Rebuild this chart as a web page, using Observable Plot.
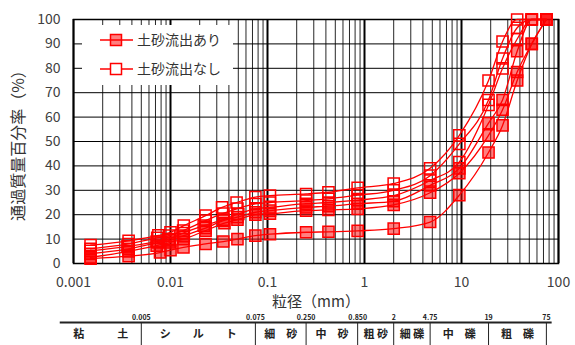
<!DOCTYPE html>
<html>
<head>
<meta charset="utf-8">
<script src="https://cdn.jsdelivr.net/npm/d3@7"></script>
<script src="https://cdn.jsdelivr.net/npm/@observablehq/plot@0.6"></script>
<style>
  body { margin: 0; background: #fff; }
  #wrap { position: relative; width: 575px; height: 345px; font-family: "Noto Sans CJK JP", "Noto Sans", sans-serif; }
  #chart svg, #table svg { display: block; }
  #legend { position: absolute; left: 82px; top: 25px; width: 151px; height: 60px; background: #fff; }
</style>
</head>
<body>
<div id="wrap">
  <div id="chart"></div>
  <div id="table"></div>
  <div id="legend"></div>
</div>
<script>
// Grain size distribution curves (passing percentage vs particle diameter)
const legendLabels = ["土砂流出あり", "土砂流出なし"];
const xTickValues = [0.001, 0.01, 0.1, 1, 10, 100];
const yTickValues = [0, 10, 20, 30, 40, 50, 60, 70, 80, 90, 100];

// sieve openings (mm), shared by all samples
const sieveSizes = [0.075, 0.106, 0.25, 0.425, 0.85, 2, 4.75, 9.5, 19, 26.5, 37.5, 53, 75];

// hydrometer diameters (mm) and passing percentages per sample
const hydroD1 = [0.0015, 0.0037, 0.0075, 0.0100, 0.0137, 0.023, 0.034, 0.048];
const hydroD2 = [0.0015, 0.0037, 0.0073, 0.0097, 0.0135, 0.023, 0.035, 0.049];
const hydroD3 = [0.0015, 0.0036, 0.0072, 0.0096, 0.0136, 0.022, 0.035, 0.050];
const hydroD4 = [0.0015, 0.0037, 0.0074, 0.0099, 0.0137, 0.023, 0.035, 0.049];
const hydroD5 = [0.0015, 0.0037, 0.0072, 0.0098, 0.0136, 0.023, 0.036, 0.049];
const hydroD6 = [0.0015, 0.0037, 0.0078, 0.0100, 0.0136, 0.023, 0.035, 0.049];

// samples without sediment outflow (hollow markers)
const hydroP1 = [7.5, 9.3, 11.5, 12.8, 15.5, 19.6, 23, 25];
const sieveP1 = [27.2, 27.8, 28.5, 29.2, 31, 32.8, 39, 52.5, 75, 91, 100, 100, 100];
const hydroP2 = [6, 8, 10.5, 11.4, 13.5, 17.6, 20.5, 22.5];
const sieveP2 = [24.4, 25, 25.8, 26.5, 28, 30, 36, 49, 67, 84, 96.6, 100, 100];
const hydroP3 = [5.2, 7, 9, 10, 12.5, 15.5, 18, 20.3];
const sieveP3 = [22.4, 23, 24.5, 25, 26, 27.8, 34, 41.6, 65, 80, 92, 100, 100];

// samples with sediment outflow (filled markers)
const hydroP4 = [4, 6, 8.6, 9.5, 11.4, 14.5, 17.6, 19];
const sieveP4 = [21, 21.7, 23, 23.5, 24.5, 25.5, 32, 39, 57.5, 67, 87, 100, 100];
const hydroP5 = [2.5, 5, 7.3, 8.6, 10, 13.5, 16.5, 18];
const sieveP5 = [20, 20.4, 21.7, 22, 22.4, 24, 29, 37, 52.5, 63, 78.5, 90, 100];
const hydroP6 = [2, 3, 4.5, 5.5, 6.6, 8, 9, 10];
const sieveP6 = [11.4, 12, 12.8, 13, 13.4, 14.3, 17, 28, 45.5, 56.6, 75, 90, 100];

// soil classification strip
const classBounds = [0.005, 0.075, 0.25, 0.85, 2, 4.75, 19, 75];
const classBoundLabels = ["0.005", "0.075", "0.250", "0.850", "2", "4.75", "19", "75"];
const classNames = ["粘　　　土", "シ　　ル　　ト", "細　砂", "中　砂", "粗 砂", "細 礫", "中　礫", "粗　礫"];

const samples = [
  {d: hydroD1, p: hydroP1, s: sieveP1, filled: false},
  {d: hydroD2, p: hydroP2, s: sieveP2, filled: false},
  {d: hydroD3, p: hydroP3, s: sieveP3, filled: false},
  {d: hydroD4, p: hydroP4, s: sieveP4, filled: true},
  {d: hydroD5, p: hydroP5, s: sieveP5, filled: true},
  {d: hydroD6, p: hydroP6, s: sieveP6, filled: true}
];

const RED = "#ff0000";
const FILL = "rgba(255,0,0,0.5)";
const FONT = "'Noto Sans CJK JP', 'Noto Sans', sans-serif";
const W = 575;
const ML = 73, MR = 17;

// minor log grid lines (2..9 within each decade)
const minorGrid = [];
for (let e = -3; e <= 1; e++) for (let m = 2; m <= 9; m++) minorGrid.push(+(m * Math.pow(10, e)).toPrecision(3));

const seriesMarks = samples.flatMap(smp => {
  const rows = smp.d.map((d, i) => ({d, p: smp.p[i]}))
    .concat(sieveSizes.map((d, i) => ({d, p: smp.s[i]})));
  return [
    Plot.line(rows, {x: "d", y: "p", stroke: RED, strokeWidth: 1.3, curve: "monotone-x"}),
    Plot.dot(rows, {x: "d", y: "p", symbol: "square", r: 6.3, stroke: RED, strokeWidth: 1.5,
                    fill: smp.filled ? FILL : "none"})
  ];
});

const chart = Plot.plot({
  width: W,
  height: 312,
  marginLeft: ML,
  marginRight: MR,
  marginTop: 19,
  marginBottom: 49,
  style: {fontFamily: FONT, fontSize: "14px", color: "#404040", background: "#fff"},
  x: {type: "log", domain: [0.001, 100], label: null},
  y: {domain: [0, 100], label: null},
  marks: [
    Plot.ruleX(minorGrid, {stroke: "#000", strokeWidth: 1, strokeOpacity: 0.85}),
    Plot.ruleX(xTickValues, {stroke: "#000", strokeWidth: 2}),
    Plot.ruleY(yTickValues, {stroke: "#000", strokeWidth: 1}),
    Plot.frame({stroke: "#000", strokeWidth: 1.5}),
    Plot.axisX(xTickValues, {tickSize: 0, tickPadding: 14, tickFormat: d => String(d), fontSize: 14, label: null}),
    Plot.axisY(yTickValues, {tickSize: 0, tickPadding: 13, fontSize: 14, label: null}),
    Plot.text(["粒径（mm）"], {text: d => d, frameAnchor: "bottom", dy: 43, fontSize: 15, fill: "#333"}),
    Plot.text(["通過質量百分率（%）"], {text: d => d, frameAnchor: "left", textAnchor: "middle", rotate: -90, dx: -55, fontSize: 16, fill: "#333"}),
    ...seriesMarks
  ]
});
document.getElementById("chart").append(chart);

// classification strip aligned to the same log axis
const stripStart = 0.00073, stripEnd = 86;
const cellEdges = [stripStart, ...classBounds];
const cells = classNames.map((name, i) => ({
  name,
  x: Math.sqrt(cellEdges[i] * cellEdges[i + 1])
}));

const strip = Plot.plot({
  width: W,
  height: 33,
  marginLeft: ML,
  marginRight: MR,
  marginTop: 10,
  marginBottom: 0,
  style: {fontFamily: FONT, background: "#fff", color: "#222"},
  x: {type: "log", domain: [0.001, 100], axis: null},
  y: {domain: [0, 1], axis: null},
  marks: [
    Plot.ruleY([1], {x1: stripStart, x2: stripEnd, stroke: "#222", strokeWidth: 2}),
    Plot.ruleX(classBounds, {y1: 0, y2: 1, stroke: "#222", strokeWidth: 1}),
    Plot.text(classBounds, {x: d => d, y: 1, dy: -5, text: (d, i) => classBoundLabels[i], fontSize: 7, fontWeight: "bold"}),
    Plot.text(cells, {x: "x", y: 0.5, text: "name", fontSize: 11, fontWeight: "bold"})
  ]
});
document.getElementById("table").append(strip);

// legend box drawn over the upper-left of the grid
const legend = d3.select("#legend").append("svg").attr("width", 151).attr("height", 60);
legendLabels.forEach((label, i) => {
  const cy = 15 + i * 29;
  const g = legend.append("g");
  g.append("line").attr("x1", 18).attr("x2", 51).attr("y1", cy).attr("y2", cy)
    .attr("stroke", RED).attr("stroke-width", 1.3);
  g.append("rect").attr("x", 34 - 5.5).attr("y", cy - 5.5).attr("width", 11).attr("height", 11)
    .attr("stroke", RED).attr("stroke-width", 1.5).attr("fill", i === 0 ? FILL : "#fff");
  g.append("text").attr("x", 55).attr("y", cy).attr("dy", "0.35em")
    .attr("font-size", 14).attr("font-family", FONT).attr("fill", "#333").text(label);
});
</script>
</body>
</html>
